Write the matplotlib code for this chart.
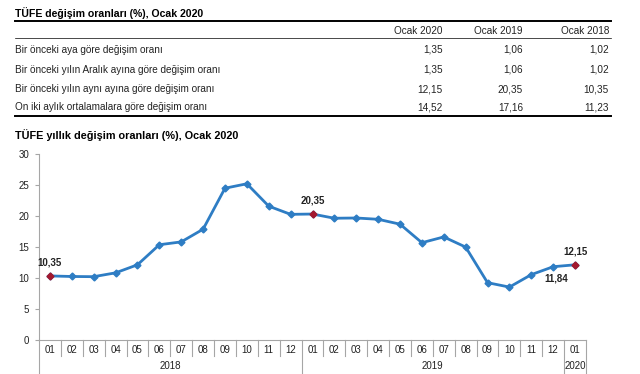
#!/usr/bin/env python3

import matplotlib

matplotlib.use("Agg")
import matplotlib.pyplot as plt
from matplotlib.lines import Line2D
from matplotlib.transforms import blended_transform_factory


W, H = 640, 374

TABLE_TITLE = "TÜFE değişim oranları (%), Ocak 2020"
TABLE_COLUMNS = ["Ocak 2020", "Ocak 2019", "Ocak 2018"]
TABLE_ROWS = [
    "Bir önceki aya göre değişim oranı",
    "Bir önceki yılın Aralık ayına göre değişim oranı",
    "Bir önceki yılın aynı ayına göre değişim oranı",
    "On iki aylık ortalamalara göre değişim oranı",
]
TABLE_VALUES = [
    ["1,35", "1,06", "1,02"],
    ["1,35", "1,06", "1,02"],
    ["12,15", "20,35", "10,35"],
    ["14,52", "17,16", "11,23"],
]

CHART_TITLE = "TÜFE yıllık değişim oranları (%), Ocak 2020"
MONTHS = ["01", "02", "03", "04", "05", "06", "07", "08", "09", "10", "11", "12",
          "01", "02", "03", "04", "05", "06", "07", "08", "09", "10", "11", "12",
          "01"]
YEARS = ["2018", "2019", "2020"]
YEAR_SPANS = [12, 12, 1]
ANNUAL_CPI = [10.35, 10.26, 10.23, 10.85, 12.15, 15.39, 15.85, 17.90, 24.52, 25.24, 21.62, 20.30,
              20.35, 19.67, 19.71, 19.50, 18.71, 15.72, 16.65, 15.01, 9.26, 8.55, 10.56, 11.84,
              12.15]
HIGHLIGHT = [0, 12, 24]
LABELS_ABOVE = [0, 12, 24]
LABELS_BELOW = [23]

BLUE = "#2E7DC4"
RED = "#A3182E"
GRAY = "#A6A6A6"
TEXT = "#222222"
FONT = "Liberation Sans"


def fx(x):
    return x / W


def fy(y):
    return 1 - y / H


def hline(figure, y, x0, x1, width):
    figure.add_artist(Line2D([fx(x0), fx(x1)], [fy(y), fy(y)],
                             transform=figure.transFigure, color="black", linewidth=width))


def draw_table(figure):
    figure.text(fx(15), fy(13), TABLE_TITLE, fontsize=7.6, fontweight="bold",
                family=FONT, va="center", ha="left")
    hline(figure, 21, 15, 611, 1.4)

    col_x = [443, 523, 609]
    for x, name in zip(col_x, TABLE_COLUMNS):
        figure.text(fx(x), fy(31), name, fontsize=7.2, family=FONT, color=TEXT,
                    va="center", ha="right")
    hline(figure, 37.5, 15, 611, 0.5)

    row_y = [50, 70, 89, 107]
    for y, label, values in zip(row_y, TABLE_ROWS, TABLE_VALUES):
        figure.text(fx(15), fy(y), label, fontsize=7.2, family=FONT, color=TEXT,
                    va="center", ha="left")
        for x, value in zip(col_x, values):
            figure.text(fx(x), fy(y), value, fontsize=7.2, family=FONT, color=TEXT,
                        va="center", ha="right")
    hline(figure, 116, 15, 611, 1.4)


def draw_chart(figure):
    figure.text(fx(15), fy(135), CHART_TITLE, fontsize=7.8, fontweight="bold",
                family=FONT, va="center", ha="left")

    left, right, top, bottom = 39, 586, 154.3, 340
    axis = figure.add_axes([fx(left), 1 - bottom / H, (right - left) / W, (bottom - top) / H])

    positions = list(range(len(ANNUAL_CPI)))
    axis.plot(positions, ANNUAL_CPI, color=BLUE, linewidth=2, marker="D",
              markersize=3.5, markerfacecolor=BLUE, markeredgecolor=BLUE, zorder=3)
    axis.plot([positions[i] for i in HIGHLIGHT], [ANNUAL_CPI[i] for i in HIGHLIGHT],
              linestyle="none", marker="D", markersize=3.5, color=RED, zorder=4)

    for i in LABELS_ABOVE:
        axis.annotate(f"{ANNUAL_CPI[i]:.2f}".replace(".", ","), (positions[i], ANNUAL_CPI[i]),
                      xytext=(0, 6), textcoords="offset points", ha="center", va="bottom",
                      fontsize=7, fontweight="bold", family=FONT, color=TEXT)
    for i in LABELS_BELOW:
        axis.annotate(f"{ANNUAL_CPI[i]:.2f}".replace(".", ","), (positions[i], ANNUAL_CPI[i]),
                      xytext=(2, -5), textcoords="offset points", ha="center", va="top",
                      fontsize=7, fontweight="bold", family=FONT, color=TEXT)

    axis.set_xlim(-0.5, len(ANNUAL_CPI) - 0.5)
    axis.set_ylim(0, 30)
    axis.set_yticks(range(0, 31, 5))
    axis.set_xticks([])
    for side in ("top", "right"):
        axis.spines[side].set_visible(False)
    for side in ("left", "bottom"):
        axis.spines[side].set_color(GRAY)
        axis.spines[side].set_linewidth(0.8)
    axis.tick_params(axis="y", length=3, color=GRAY, width=0.8, labelsize=7, pad=4)
    for label in axis.get_yticklabels():
        label.set_family(FONT)
        label.set_color(TEXT)

    blend = blended_transform_factory(axis.transData, axis.transAxes)
    month_depth = -0.085
    year_depth = -0.2

    for i, month in enumerate(MONTHS):
        axis.text(i, -0.055, month, transform=blend, ha="center", va="center",
                  fontsize=7, family=FONT, color=TEXT)

    boundaries = [-0.5]
    for span in YEAR_SPANS:
        boundaries.append(boundaries[-1] + span)

    for i in range(1, len(MONTHS)):
        edge = i - 0.5
        depth = year_depth if edge in boundaries else month_depth
        axis.plot([edge, edge], [0, depth], transform=blend, color=GRAY,
                  linewidth=0.8, clip_on=False)
    for edge in (boundaries[0], boundaries[-1]):
        axis.plot([edge, edge], [0, year_depth], transform=blend, color=GRAY,
                  linewidth=0.8, clip_on=False)

    for year, start, end in zip(YEARS, boundaries[:-1], boundaries[1:]):
        axis.text((start + end) / 2, -0.14, year, transform=blend, ha="center",
                  va="center", fontsize=7, family=FONT, color=TEXT)


def main():
    figure = plt.figure(figsize=(W / 100, H / 100), dpi=100)
    draw_table(figure)
    draw_chart(figure)
    figure.savefig("out.png", dpi=100)
    plt.close(figure)


if __name__ == "__main__":
    main()
